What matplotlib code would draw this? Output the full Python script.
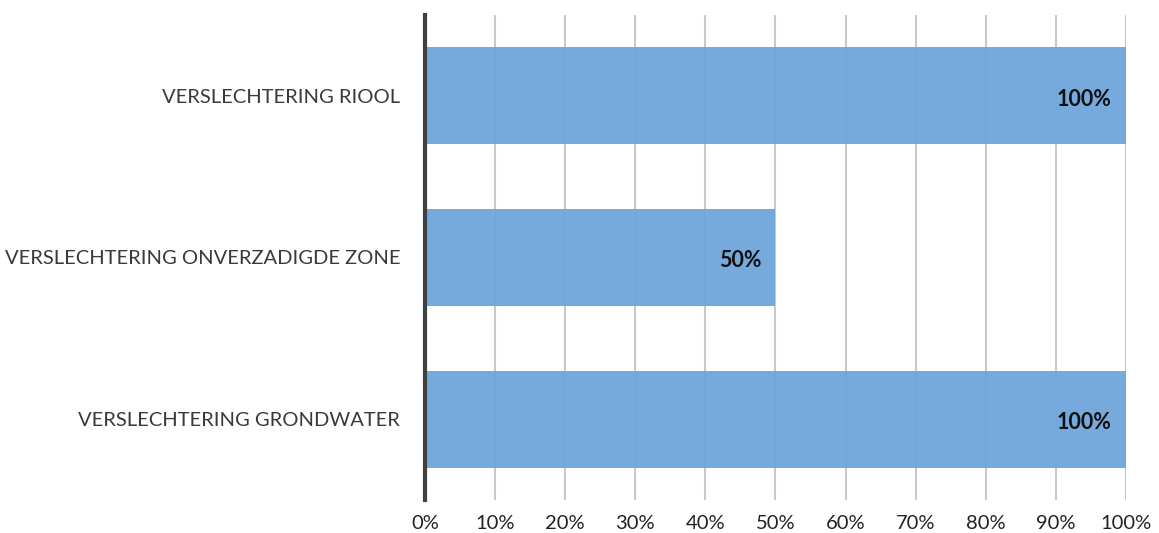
import matplotlib.pyplot as plt
import numpy as np

categories = ['VERSLECHTERING RIOOL', 'VERSLECHTERING ONVERZADIGDE ZONE', 'VERSLECHTERING GRONDWATER']
values = [100, 50, 100]
tick_values = [0, 10, 20, 30, 40, 50, 60, 70, 80, 90, 100]
tick_labels = ['%d%%' % t for t in tick_values]

plt.rcParams['font.family'] = ['Lato', 'DejaVu Sans']

f = plt.figure(figsize=(11.59, 5.33), dpi=100)
ax = f.add_axes([0.3667, 0.0619, 0.6048, 0.91])

y = np.arange(len(categories))
bars = ax.barh(y, values, height=0.6, color='#6fa6da', alpha=0.95, zorder=2)

ax.set_ylim(len(categories) - 0.5, -0.5)
ax.set_xlim(0, 100)
ax.set_xticks(tick_values)
ax.set_xticklabels(tick_labels, fontsize=14.5, color='#222222')
ax.set_yticks(y)
ax.set_yticklabels(categories, fontsize=14.5, color='#3a3a3a')
ax.tick_params(axis='both', length=0)
ax.tick_params(axis='x', pad=11)
ax.tick_params(axis='y', pad=18)

ax.grid(axis='x', color='#c8c8c8', linewidth=1.5, zorder=1)
for s in ['top', 'right', 'bottom']:
    ax.spines[s].set_visible(False)
ax.spines['left'].set_color('#404040')
ax.spines['left'].set_linewidth(3)
ax.spines['left'].set_zorder(3)

for yi, v in zip(y, values):
    ax.text(v - 2, yi + 0.02, '%d%%' % v, ha='right', va='center', fontsize=15.5,
            fontweight='bold', color='#111111', zorder=4)

f.savefig('out.png', dpi=100)
